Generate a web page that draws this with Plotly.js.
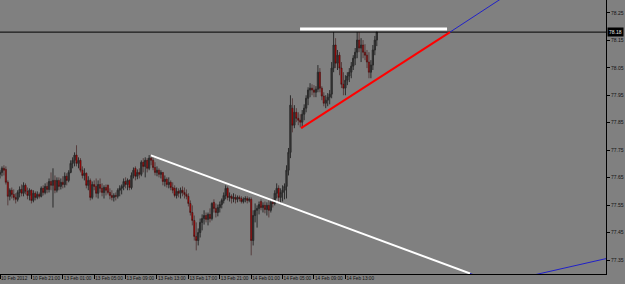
<!DOCTYPE html>
<html>
<head>
<meta charset="utf-8">
<script src="https://cdn.plot.ly/plotly-3.0.1.min.js"></script>
<style>
html,body{margin:0;padding:0;background:#808080;}
#chart{width:625px;height:284px;}
</style>
</head>
<body>
<div id="chart"></div>
<script>
// 15-minute candles, bar index 0 = 10 Feb 2012 17:00
const openP = [
77.662,77.669,77.684,77.680,77.633,77.582,77.604,77.589,77.578,77.571,
77.596,77.607,77.593,77.622,77.600,77.585,77.604,77.567,77.593,77.578,
77.589,77.582,77.611,77.596,77.618,77.607,77.636,77.622,77.640,77.604,
77.640,77.618,77.633,77.625,77.655,77.640,77.669,77.702,77.713,77.732,
77.702,77.713,77.677,77.658,77.666,77.622,77.640,77.578,77.625,77.618,
77.593,77.625,77.611,77.596,77.614,77.622,77.596,77.585,77.578,77.585,
77.582,77.604,77.611,77.618,77.636,77.625,77.640,77.614,77.658,77.684,
77.655,77.669,77.662,77.706,77.691,77.713,77.684,77.721,77.713,77.687,
77.669,77.677,77.662,77.669,77.636,77.644,77.625,77.633,77.614,77.611,
77.585,77.600,77.593,77.604,77.596,77.589,77.582,77.556,77.523,77.494,
77.436,77.421,77.450,77.487,77.501,77.512,77.498,77.516,77.501,77.560,
77.538,77.523,77.541,77.552,77.567,77.585,77.611,77.578,77.582,77.574,
77.578,77.571,77.578,77.574,77.563,77.571,77.574,77.567,77.571,77.421,
77.512,77.531,77.538,77.563,77.541,77.549,77.534,77.549,77.531,77.560,
77.556,77.593,77.611,77.578,77.596,77.604,77.618,77.677,77.742,77.903,
77.841,77.888,77.866,77.859,77.852,77.881,77.903,77.939,77.969,77.976,
77.969,77.961,77.972,78.034,77.976,77.947,77.921,77.932,77.943,77.954,
78.049,78.133,78.067,78.096,78.049,77.990,77.976,78.005,78.020,78.034,
78.056,78.085,78.107,78.151,78.122,78.133,78.107,78.096,78.071,78.034,
78.060,78.115,78.151];
const highP = [
77.677,77.691,77.695,77.691,77.640,77.611,77.614,77.607,77.593,77.604,
77.618,77.625,77.633,77.629,77.614,77.611,77.607,77.604,77.600,77.600,
77.596,77.618,77.622,77.629,77.633,77.647,77.669,77.684,77.658,77.651,
77.651,77.647,77.655,77.669,77.666,77.677,77.713,77.724,77.742,77.768,
77.724,77.721,77.691,77.684,77.669,77.655,77.647,77.636,77.640,77.647,
77.640,77.647,77.629,77.622,77.625,77.625,77.611,77.604,77.593,77.596,
77.611,77.622,77.625,77.647,77.651,77.647,77.644,77.669,77.687,77.691,
77.680,77.684,77.713,77.721,77.724,77.721,77.732,77.732,77.724,77.706,
77.691,77.684,77.677,77.669,77.658,77.651,77.651,77.640,77.633,77.622,
77.614,77.611,77.614,77.618,77.614,77.607,77.593,77.567,77.549,77.512,
77.487,77.465,77.501,77.516,77.531,77.523,77.523,77.538,77.560,77.571,
77.556,77.552,77.563,77.574,77.596,77.622,77.618,77.596,77.589,77.593,
77.589,77.585,77.585,77.582,77.578,77.582,77.582,77.578,77.578,77.531,
77.556,77.549,77.563,77.571,77.560,77.563,77.560,77.567,77.571,77.574,
77.604,77.629,77.622,77.611,77.622,77.629,77.695,77.758,77.950,77.939,
77.914,77.903,77.888,77.881,77.896,77.917,77.950,77.979,77.994,77.990,
77.987,77.983,78.060,78.049,77.983,77.961,77.950,77.958,77.969,78.071,
78.180,78.158,78.115,78.107,78.071,78.034,78.023,78.034,78.049,78.071,
78.096,78.122,78.180,78.180,78.158,78.151,78.136,78.115,78.107,78.078,
78.133,78.166,78.180];
const lowP = [
77.647,77.655,77.658,77.625,77.549,77.567,77.574,77.567,77.556,77.563,
77.578,77.582,77.582,77.589,77.571,77.567,77.556,77.560,77.567,77.571,
77.574,77.578,77.585,77.589,77.593,77.596,77.604,77.541,77.593,77.596,
77.604,77.607,77.611,77.614,77.622,77.633,77.666,77.684,77.691,77.691,
77.684,77.669,77.647,77.640,77.611,77.604,77.567,77.571,77.604,77.578,
77.574,77.596,77.582,77.574,77.585,77.589,77.571,77.567,77.563,77.567,
77.574,77.582,77.589,77.604,77.611,77.604,77.604,77.607,77.647,77.640,
77.644,77.647,77.655,77.669,77.651,77.669,77.677,77.695,77.677,77.658,
77.655,77.651,77.647,77.622,77.618,77.614,77.611,77.604,77.593,77.578,
77.574,77.578,77.574,77.582,77.574,77.571,77.545,77.512,77.476,77.421,
77.385,77.403,77.432,77.458,77.479,77.487,77.476,77.487,77.494,77.523,
77.505,77.509,77.523,77.538,77.556,77.571,77.567,77.563,77.556,77.560,
77.556,77.560,77.563,77.556,77.556,77.560,77.556,77.560,77.367,77.403,
77.487,77.468,77.516,77.531,77.523,77.520,77.512,77.505,77.523,77.541,
77.549,77.574,77.560,77.556,77.563,77.571,77.574,77.658,77.721,77.815,
77.830,77.852,77.841,77.833,77.830,77.859,77.888,77.914,77.943,77.950,
77.943,77.943,77.961,77.961,77.932,77.910,77.903,77.910,77.917,77.939,
78.034,78.049,78.042,78.023,77.976,77.950,77.950,77.987,77.998,78.012,
78.042,78.060,78.085,78.107,78.071,78.085,78.078,78.049,78.012,78.012,
78.042,78.096,78.129];
const closeP = [
77.669,77.684,77.677,77.633,77.582,77.604,77.589,77.578,77.571,77.596,
77.607,77.593,77.622,77.600,77.585,77.604,77.567,77.593,77.578,77.589,
77.582,77.611,77.596,77.618,77.607,77.636,77.622,77.640,77.604,77.640,
77.618,77.633,77.625,77.655,77.640,77.669,77.702,77.713,77.732,77.702,
77.713,77.677,77.658,77.666,77.622,77.640,77.578,77.625,77.618,77.593,
77.625,77.611,77.596,77.614,77.604,77.596,77.585,77.578,77.585,77.582,
77.604,77.611,77.618,77.636,77.625,77.640,77.614,77.658,77.677,77.655,
77.669,77.662,77.706,77.691,77.713,77.684,77.721,77.713,77.687,77.669,
77.677,77.662,77.669,77.636,77.644,77.625,77.633,77.614,77.604,77.585,
77.600,77.593,77.604,77.596,77.589,77.582,77.556,77.523,77.494,77.436,
77.421,77.450,77.487,77.501,77.512,77.498,77.516,77.501,77.556,77.538,
77.523,77.541,77.552,77.567,77.585,77.611,77.578,77.582,77.574,77.578,
77.571,77.578,77.574,77.563,77.571,77.574,77.567,77.571,77.421,77.512,
77.531,77.538,77.552,77.541,77.549,77.534,77.549,77.531,77.560,77.556,
77.593,77.611,77.578,77.596,77.604,77.618,77.677,77.742,77.914,77.841,
77.888,77.866,77.859,77.852,77.881,77.903,77.939,77.969,77.976,77.969,
77.961,77.972,78.034,77.976,77.947,77.921,77.932,77.943,77.954,78.049,
78.133,78.067,78.096,78.049,77.990,77.976,78.005,78.020,78.034,78.056,
78.085,78.107,78.151,78.122,78.133,78.107,78.096,78.071,78.034,78.060,
78.115,78.151,78.180];

const tickBars = [0,16,32,48,64,80,96,112,128,144,160,176];
const tickLabels = ["10 Feb 2012","10 Feb 21:00","13 Feb 01:00","13 Feb 05:00","13 Feb 09:00","13 Feb 13:00","13 Feb 17:00","13 Feb 21:00","14 Feb 01:00","14 Feb 05:00","14 Feb 09:00","14 Feb 13:00"];
const priceTicks = [77.35,77.45,77.55,77.65,77.75,77.85,77.95,78.05,78.15,78.25];
const currentPrice = 78.180;

// drawn objects (bar index, price)
const whiteTrendX = [76.9, 239.5];   const whiteTrendY = [77.731, 77.301];
const whiteRayX   = [239.5, 249.7];  const whiteRayY   = [77.301, 77.275];
const redTrendX   = [153.4, 229.3];  const redTrendY   = [77.830, 78.180];
const redRayX     = [229.3, 259.9];  const redRayY     = [78.180, 78.323];
const resistX     = [152.9, 227.8];  const resistY     = [78.191, 78.191];
const blueLineX   = [265.0, 311.9];  const blueLineY   = [77.284, 77.360];

const barIdx = openP.map((_, i) => i);
const line = (x, y, color, width) => ({type:'scatter', mode:'lines', x:x, y:y,
  line:{color:color, width:width}, hoverinfo:'skip', showlegend:false});

const traces = [
  {type:'candlestick', x:barIdx, open:openP, high:highP, low:lowP, close:closeP,
   increasing:{line:{color:'#2a2a2a', width:1}, fillcolor:'#3a3a3a'},
   decreasing:{line:{color:'#3a1010', width:0.6}, fillcolor:'#c00000'},
   whiskerwidth:0, hoverinfo:'skip', showlegend:false},
  line([0,308.8], [currentPrice,currentPrice], '#000000', 1),
  line(whiteTrendX, whiteTrendY, '#ffffff', 2),
  line(whiteRayX, whiteRayY, '#2020c8', 1),
  line(redTrendX, redTrendY, '#ff0000', 2),
  line(redRayX, redRayY, '#2020c8', 1),
  line(resistX, resistY, '#ffffff', 3),
  line(blueLineX, blueLineY, '#2020c8', 1)
];

const layout = {
  width:625, height:284,
  margin:{l:0, r:19, t:0, b:10, autoexpand:false},
  paper_bgcolor:'#808080', plot_bgcolor:'#808080',
  showlegend:false, hovermode:false, boxgap:0.1,
  font:{family:'Liberation Sans, Arial, sans-serif', size:5, color:'#111111'},
  xaxis:{type:'linear', range:[0,308.8], rangeslider:{visible:false}, automargin:false,
    tickmode:'array', tickvals:tickBars, ticktext:tickLabels, tickangle:0,
    ticks:'outside', ticklen:4, tickwidth:1, tickcolor:'#000000',
    ticklabelposition:'outside right', ticklabelstandoff:-1,
    showline:true, linecolor:'#000000', linewidth:1, showgrid:false, zeroline:false,
    tickfont:{size:4.7, color:'#111111'}},
  yaxis:{side:'right', range:[77.299,78.297], automargin:false,
    tickmode:'array', tickvals:priceTicks, ticktext:priceTicks.map(v=>v.toFixed(2)),
    ticks:'outside', ticklen:3, tickwidth:1, tickcolor:'#000000',
    showline:true, linecolor:'#000000', linewidth:1, showgrid:false, zeroline:false,
    tickfont:{size:5, color:'#111111'}},
  annotations:[{xref:'paper', yref:'y', x:1, y:currentPrice, xanchor:'left', yanchor:'middle',
    xshift:1, text:currentPrice.toFixed(2), showarrow:false, bgcolor:'#000000',
    font:{size:5, color:'#e0e0e0'}, borderpad:1}]
};

Plotly.newPlot('chart', traces, layout, {staticPlot:true, displayModeBar:false});
</script>
</body>
</html>
